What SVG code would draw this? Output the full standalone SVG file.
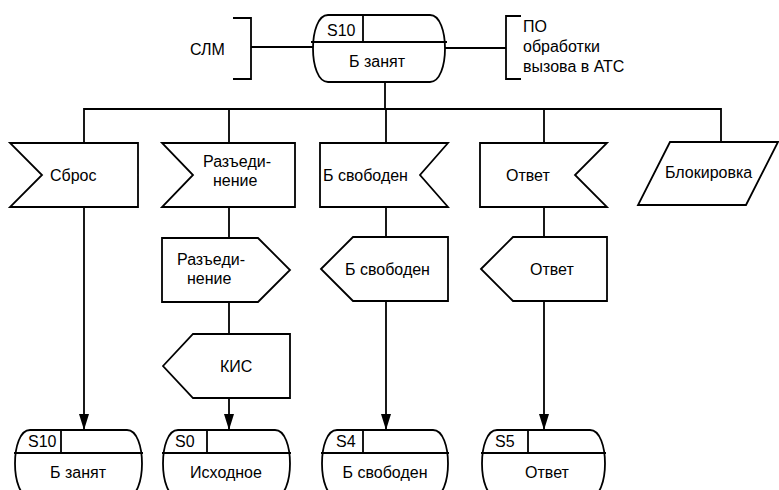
<svg xmlns="http://www.w3.org/2000/svg" width="779" height="490" viewBox="0 0 779 490">
<defs>
<style>
.s{fill:#fff;stroke:#000;stroke-width:1.8;stroke-linejoin:miter}
.l{fill:none;stroke:#000;stroke-width:1.8}
text{font-family:"Liberation Sans",Arial,sans-serif;font-size:16px;fill:#000}
.m{text-anchor:middle}
</style>
<marker id="ar" viewBox="0 0 16 10" refX="16" refY="5" markerWidth="16" markerHeight="10" markerUnits="userSpaceOnUse" orient="auto">
<path d="M0,0 L16,5 L0,10 Z" fill="#000"/>
</marker>
</defs>
<rect width="779" height="490" fill="#fff"/>
<g id="connectors">
<path class="l" d="M233,18 H251 V79 H233"/>
<path class="l" d="M251,47 H313"/>
<path class="l" d="M521,16 H506 V79 H521"/>
<path class="l" d="M445,48 H506"/>
<path class="l" d="M385,82 V109"/>
<path class="l" d="M84,143 V109 H721 V142"/>
<path class="l" d="M229,109 V143"/>
<path class="l" d="M386,109 V143"/>
<path class="l" d="M544,109 V143"/>
<path class="l" d="M229,207 V238"/>
<path class="l" d="M386,207 V237"/>
<path class="l" d="M544,207 V237"/>
<path class="l" d="M229,302 V334"/>
<path class="l" d="M84,207 V430" marker-end="url(#ar)"/>
<path class="l" d="M229,398 V430" marker-end="url(#ar)"/>
<path class="l" d="M386,301 V430" marker-end="url(#ar)"/>
<path class="l" d="M544,301 V430" marker-end="url(#ar)"/>
</g>
<g id="slm"><text x="190" y="55">СЛМ</text></g>
<g id="po"><text x="523" y="32">ПО</text><text x="523" y="52">обработки</text><text x="523" y="72">вызова в АТС</text></g>
<g id="state-top">
<path class="s" d="M328,15 H430 C450,15 450,82 430,82 H328 C308,82 308,15 328,15 Z"/>
<path class="l" d="M311,42 H447 M363,15 V42"/>
<text x="327" y="36">S10</text>
<text class="m" x="377" y="67">Б занят</text>
</g>
<g id="sbros">
<path class="s" d="M10,143 H138 V207 H10 L42,175 Z"/>
<text x="50" y="181">Сброс</text>
</g>
<g id="razed-in">
<path class="s" d="M162,143 H295 V207 H162 L193,175 Z"/>
<text x="203" y="167">Разъеди-</text>
<text x="213" y="186">нение</text>
</g>
<g id="bsvob-in">
<path class="s" d="M320,143 H448 L420,175 L448,207 H320 Z"/>
<text x="323" y="181">Б свободен</text>
</g>
<g id="otvet-in">
<path class="s" d="M480,143 H607 L575,175 L607,207 H480 Z"/>
<text x="506" y="181">Ответ</text>
</g>
<g id="blok">
<path class="s" d="M670,142 H778 L746,205 H638 Z"/>
<text x="665" y="178">Блокировка</text>
</g>
<g id="razed-out">
<path class="s" d="M162,238 H258 L290,270 L258,302 H162 Z"/>
<text x="177" y="265">Разъеди-</text>
<text x="187" y="284">нение</text>
</g>
<g id="kis">
<path class="s" d="M163,366 L193,334 H290 V398 H193 Z"/>
<text x="220" y="372">КИС</text>
</g>
<g id="bsvob-out">
<path class="s" d="M321,269 L353,237 H448 V301 H353 Z"/>
<text x="345" y="275">Б свободен</text>
</g>
<g id="otvet-out">
<path class="s" d="M481,269 L513,237 H607 V301 H513 Z"/>
<text x="530" y="275">Ответ</text>
</g>
<g id="state-s10">
<path class="s" d="M30,430 H127 C147,430 147,497 127,497 H30 C10,497 10,430 30,430 Z"/>
<path class="l" d="M14,453 H143 M61,430 V453"/>
<text x="28" y="447">S10</text>
<text class="m" x="78" y="478">Б занят</text>
</g>
<g id="state-s0">
<path class="s" d="M178,430 H275 C295,430 295,497 275,497 H178 C158,497 158,430 178,430 Z"/>
<path class="l" d="M162,453 H291 M207,430 V453"/>
<text x="175" y="447">S0</text>
<text class="m" x="226" y="478">Исходное</text>
</g>
<g id="state-s4">
<path class="s" d="M337,430 H433 C453,430 453,497 433,497 H337 C317,497 317,430 337,430 Z"/>
<path class="l" d="M321,453 H449 M363,430 V453"/>
<text x="336" y="447">S4</text>
<text class="m" x="385" y="478">Б свободен</text>
</g>
<g id="state-s5">
<path class="s" d="M497,430 H590 C610,430 610,497 590,497 H497 C477,497 477,430 497,430 Z"/>
<path class="l" d="M481,453 H606 M528,430 V453"/>
<text x="495" y="447">S5</text>
<text class="m" x="547" y="478">Ответ</text>
</g>
</svg>
